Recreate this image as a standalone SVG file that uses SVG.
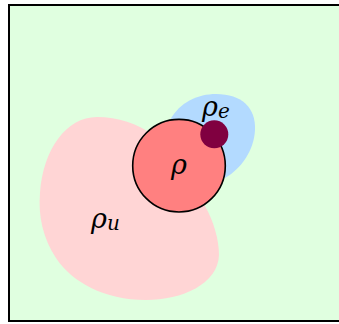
<svg xmlns="http://www.w3.org/2000/svg" width="339" height="324" viewBox="0 0 339 324">
<style>
.lbl{font-family:"DejaVu Serif",serif;font-style:italic;fill:#000;}
</style>
<rect x="0" y="0" width="339" height="324" fill="#ffffff"/>
<g id="frame"><rect x="9" y="5" width="360" height="316" fill="#e0ffe0" stroke="#000" stroke-width="2"/></g>
<g id="rho_u_region">
<path d="M97,117 C118,117 138,124 152,134 L205,206 C214,222 219,240 219,255 C218,284 182,300 146,300 C104,300 72,282 56,258 C43,238 38,216 40,193 C43,150 66,117 97,117 Z" fill="#ffd5d5"/>
</g>
<g id="rho_e_region">
<path d="M170,120 C180,102 198,94 216,94 C242,94 256,108 255,130 C254,150 242,168 225,178 L190,150 Z" fill="#b3daff"/>
</g>
<g id="rho">
<circle cx="179" cy="165.7" r="46.3" fill="#ff8080" stroke="#000" stroke-width="1.6"/>
<text class="lbl" x="179" y="174" font-size="27" text-anchor="middle">ρ</text>
</g>
<g id="dot"><circle cx="214.3" cy="134.3" r="14" fill="#800040"/></g>
<text class="lbl" x="202" y="116" font-size="27">ρ<tspan font-size="20" dy="2">e</tspan></text>
<text class="lbl" x="91" y="228" font-size="27">ρ<tspan font-size="20" dy="2">u</tspan></text>
</svg>
